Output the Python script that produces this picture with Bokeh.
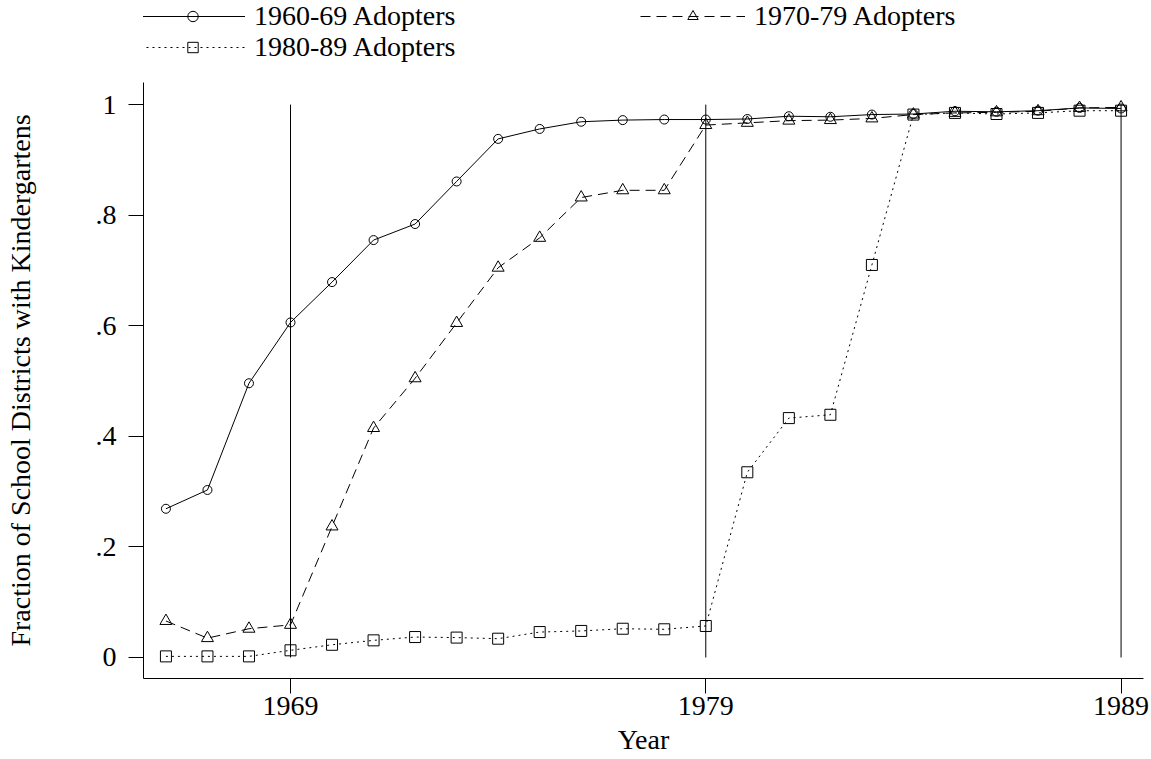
from bokeh.plotting import figure
from bokeh.layouts import column
from bokeh.models import Legend, LegendItem, FixedTicker, Range1d
from bokeh.embed import file_html
from bokeh.resources import INLINE

# ---- data ----
years = [1966, 1967, 1968, 1969, 1970, 1971, 1972, 1973, 1974, 1975, 1976, 1977,
         1978, 1979, 1980, 1981, 1982, 1983, 1984, 1985, 1986, 1987, 1988, 1989]

adopters_60s = [0.269, 0.303, 0.496, 0.606, 0.679, 0.755, 0.784, 0.861, 0.938, 0.956,
                0.969, 0.972, 0.973, 0.973, 0.974, 0.979, 0.978, 0.982, 0.983, 0.988,
                0.987, 0.989, 0.994, 0.993]

adopters_70s = [0.066, 0.035, 0.052, 0.059, 0.237, 0.415, 0.505, 0.605, 0.705, 0.759,
                0.832, 0.845, 0.845, 0.963, 0.967, 0.971, 0.972, 0.975, 0.982, 0.985,
                0.986, 0.988, 0.994, 0.995]

adopters_80s = [0.002, 0.002, 0.002, 0.013, 0.023, 0.031, 0.037, 0.036, 0.034, 0.046,
                0.048, 0.052, 0.051, 0.057, 0.335, 0.433, 0.439, 0.710, 0.982, 0.985,
                0.983, 0.985, 0.989, 0.989]

series_labels = ["1960-69 Adopters", "1970-79 Adopters", "1980-89 Adopters"]

ref_years = [1969, 1979, 1989]
ref_bottom = [0, 0, 0]
ref_top = [1, 1, 1]

x_ticks = [1969, 1979, 1989]
y_ticks = [0, 0.2, 0.4, 0.6, 0.8, 1]
y_tick_labels = ["0", ".2", ".4", ".6", ".8", "1"]

FONT = "Liberation Serif"
FS = "28px"

styles = [
    dict(dash="solid", marker="circle", size=9),
    dict(dash="10 6", marker="triangle", size=12),
    dict(dash="2 4", marker="square", size=11),
]
series = [adopters_60s, adopters_70s, adopters_80s]

# ---------------- main chart ----------------
p = figure(width=1151, height=677, output_backend="svg", toolbar_location=None,
           x_range=Range1d(1965.46, 1989.54), y_range=Range1d(-0.038, 1.04),
           min_border_left=143, min_border_right=8, min_border_top=0,
           min_border_bottom=81, title=None)
p.outline_line_color = None
p.grid.visible = False
p.background_fill_color = "white"
p.border_fill_color = "white"

p.segment(x0=ref_years, y0=ref_bottom, x1=ref_years, y1=ref_top,
          line_color="black", line_width=1)

for vals, st in zip(series, styles):
    p.line(years, vals, line_color="black", line_width=1, line_dash=st["dash"])
    p.scatter(years, vals, marker=st["marker"], size=st["size"], fill_alpha=0,
              line_color="black", line_width=1)

for ax in (p.xaxis[0], p.yaxis[0]):
    ax.axis_line_color = "black"
    ax.axis_line_width = 1
    ax.major_tick_line_color = "black"
    ax.major_tick_out = 15
    ax.major_tick_in = 0
    ax.minor_tick_line_color = None
    ax.major_label_text_font = FONT
    ax.major_label_text_font_size = FS
    ax.major_label_text_color = "black"
    ax.axis_label_text_font = FONT
    ax.axis_label_text_font_size = FS
    ax.axis_label_text_font_style = "normal"
    ax.axis_label_text_color = "black"

p.xaxis.ticker = FixedTicker(ticks=x_ticks)
p.xaxis.axis_label = "Year"
p.xaxis.major_label_standoff = 3
p.xaxis.axis_label_standoff = 6

p.yaxis.ticker = FixedTicker(ticks=y_ticks)
p.yaxis.major_label_overrides = {t: l for t, l in zip(y_ticks, y_tick_labels)}
p.yaxis.axis_label = "Fraction of School Districts with Kindergartens"
p.yaxis.major_label_standoff = 12
p.yaxis.axis_label_standoff = 57

# ---------------- legend strip ----------------
# (its frame is aligned with the main chart's frame by the column layout;
#  the key renderers hold the series but sit outside this strip's ranges)
pl = figure(width=1151, height=82, output_backend="svg", toolbar_location=None,
            x_range=Range1d(0, 1), y_range=Range1d(0, 1), min_border=0,
            title=None)
pl.axis.visible = False
pl.grid.visible = False
pl.outline_line_color = None
pl.background_fill_color = "white"
pl.border_fill_color = "white"

key_renderers = []
for vals, st in zip(series, styles):
    rl = pl.line(x=years, y=vals, line_color="black", line_width=1, line_dash=st["dash"])
    rm = pl.scatter(x=years, y=vals, marker=st["marker"], size=st["size"], fill_alpha=0,
                    line_color="black", line_width=1)
    key_renderers.append([rl, rm])

legend_style = dict(glyph_width=105, glyph_height=26, label_height=26,
                    label_width=386, label_standoff=9, padding=0, margin=0,
                    spacing=0, border_line_color=None, background_fill_alpha=0,
                    label_text_font=FONT, label_text_font_size=FS,
                    label_text_color="black", orientation="horizontal")

leg_row1 = Legend(items=[LegendItem(label=series_labels[0], renderers=key_renderers[0]),
                         LegendItem(label=series_labels[1], renderers=key_renderers[1])],
                  location=(-3, 50), **legend_style)
leg_row2 = Legend(items=[LegendItem(label=series_labels[2], renderers=key_renderers[2])],
                  location=(-3, 19), **legend_style)
pl.add_layout(leg_row1, "center")
pl.add_layout(leg_row2, "center")

layout = column(pl, p, spacing=0)
open("out.html", "w").write(file_html(layout, INLINE))
